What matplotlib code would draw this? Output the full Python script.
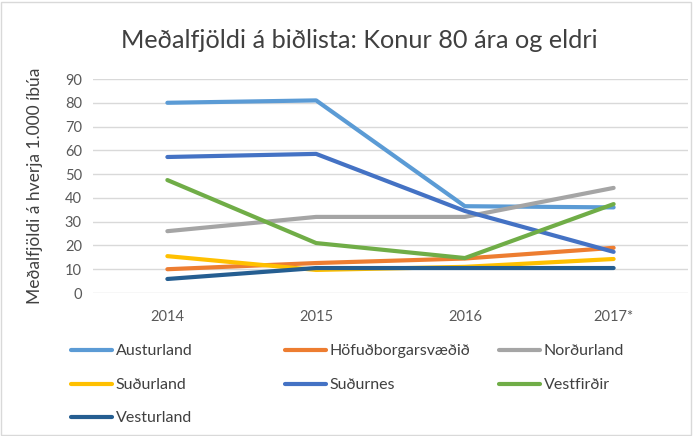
import matplotlib
matplotlib.use("Agg")
import matplotlib.pyplot as plt
from matplotlib.patches import Rectangle

plt.rcParams['font.family'] = ['Lato', 'DejaVu Sans']

years = ["2014", "2015", "2016", "2017*"]
series_names = ["Austurland", "Höfuðborgarsvæðið", "Norðurland", "Suðurland",
                "Suðurnes", "Vestfirðir", "Vesturland"]
austurland = [80, 81, 36.5, 36]
hofudborgarsvaedid = [10, 12.6, 14.5, 19]
nordurland = [26, 32, 32, 44.2]
sudurland = [15.5, 9.7, 11, 14.3]
sudurnes = [57.2, 58.5, 34.5, 17.3]
vestfirdir = [47.5, 21, 14.7, 37.4]
vesturland = [5.9, 10.5, 10.5, 10.5]
colors = ["#5B9BD5", "#ED7D31", "#A5A5A5", "#FFC000", "#4472C4", "#70AD47", "#255E91"]
data = [austurland, hofudborgarsvaedid, nordurland, sudurland, sudurnes, vestfirdir, vesturland]

W, H = 694, 436
fig = plt.figure(figsize=(W/100, H/100), dpi=100)
ax = fig.add_axes([93/W, 1-293/H, (688-93)/W, (293-79)/H])

x = list(range(len(years)))
handles = []
for name, vals, c in zip(series_names, data, colors):
    h, = ax.plot(x, vals, color=c, lw=3, solid_capstyle='round', label=name)
    handles.append(h)

ax.set_xlim(-0.5, 3.5)
ax.set_ylim(0, 90)
ax.set_yticks(range(0, 91, 10))
ax.set_xticks(x)
ax.set_xticklabels(years)
ax.grid(axis='y', color='#D9D9D9', lw=1)
ax.set_axisbelow(True)
for s in ax.spines.values():
    s.set_visible(False)
ax.tick_params(length=0, colors='#595959', labelsize=10.5, pad=8)
ax.tick_params(axis='x', pad=12)
ax.set_ylabel("Meðalfjöldi á hverja 1.000 íbúa", fontsize=12.5, color='#404040', labelpad=16)

fig.text(359/W, 1-41/H, "Meðalfjöldi á biðlista: Konur 80 ára og eldri",
         ha='center', va='center', fontsize=18.2, color='#404040')

# legend laid out in a fixed grid like the original (row-major, 3 columns)
col_x = [71, 285, 499]
row_y = [351, 385, 418]
for i, (h, name) in enumerate(zip(handles, series_names)):
    r, c = divmod(i, 3)
    leg = fig.legend([h], [name], loc='center left',
                     bbox_to_anchor=(col_x[c]/W, 1-row_y[r]/H),
                     frameon=False, fontsize=11.5, handlelength=2.55, handletextpad=0.25,
                     borderaxespad=0, borderpad=0)
    for t in leg.get_texts():
        t.set_color('#404040')

fig.patches.append(Rectangle((1/W, 1/H), 690/W, 433/H, transform=fig.transFigure,
                             fill=False, edgecolor='#D9D9D9', lw=1))

fig.savefig("out.png", dpi=100)
